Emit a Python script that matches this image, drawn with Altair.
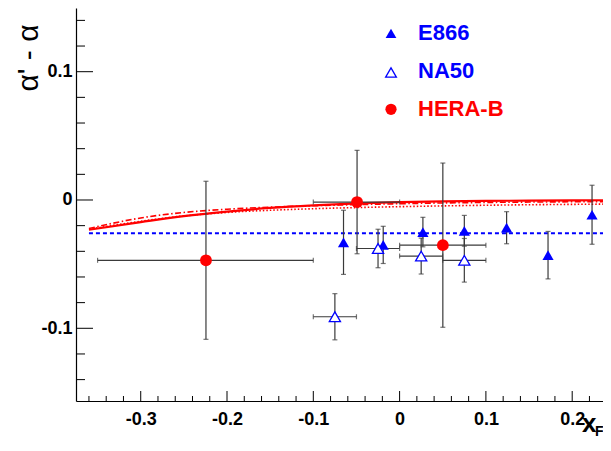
import altair as alt
import pandas as pd

# ---------------- data ----------------
e866_x = [-0.065, -0.019, 0.027, 0.075, 0.124, 0.172, 0.223]
e866_y = [-0.033, -0.035, -0.025, -0.024, -0.0216, -0.043, -0.0115]
e866_err = [0.025, 0.0145, 0.0115, 0.012, 0.0125, 0.0185, 0.023]

na50_x = [-0.075, -0.025, 0.025, 0.075]
na50_y = [-0.091, -0.0378, -0.0437, -0.047]
na50_yerr = [0.018, 0.015, 0.014, 0.017]
na50_xerr = [0.025, 0.025, 0.025, 0.025]

herab_x = [-0.2244, -0.0493, 0.0501]
herab_y = [-0.047, -0.0016, -0.0352]
herab_yerr = [0.0616, 0.0403, 0.064]
herab_xlo = [-0.35, -0.1, 0.0]
herab_xhi = [-0.1, 0.0, 0.1]

e866_level_x = [-0.36, 0.24]
e866_level_y = [-0.026, -0.026]

curve_x = [-0.36, -0.3, -0.25, -0.2, -0.15, -0.1, -0.05, 0.0, 0.05, 0.1, 0.15, 0.2, 0.24]
curve_solid = [-0.0232, -0.0172, -0.0125, -0.0090, -0.0062, -0.0042, -0.0027, -0.0017,
               -0.0011, -0.0007, -0.0005, -0.0003, -0.0002]
curve_dashdot = [-0.0222, -0.0140, -0.0097, -0.0072, -0.0056, -0.0045, -0.0036, -0.0029,
                 -0.0023, -0.0019, -0.0016, -0.0014, -0.0013]
curve_dotted = [-0.0228, -0.0166, -0.0124, -0.0097, -0.0080, -0.0068, -0.0059, -0.0052,
                -0.0046, -0.0041, -0.0037, -0.0034, -0.0032]

legend_names = ["E866", "NA50", "HERA-B"]
y_title = ["α' - α"]
x_title = ["x", "F"]

x_major = [-0.3, -0.2, -0.1, 0.0, 0.1, 0.2]
x_minor = [-0.36, -0.34, -0.32, -0.28, -0.26, -0.24, -0.22, -0.18, -0.16, -0.14, -0.12,
           -0.08, -0.06, -0.04, -0.02, 0.02, 0.04, 0.06, 0.08, 0.12, 0.14, 0.16, 0.18,
           0.22]
y_major = [-0.1, 0.0, 0.1]
y_minor = [-0.14, -0.12, -0.08, -0.06, -0.04, -0.02, 0.02, 0.04, 0.06, 0.08, 0.12, 0.14]

# ---------------- layout ----------------
W, H = 527, 393
xs = alt.Scale(domain=[-0.375, 0.2357], nice=False, zero=False)
ys = alt.Scale(domain=[-0.15667, 0.14965], nice=False, zero=False)
BLUE = "#0000ff"
RED = "#ff0000"
BAR = "#3a3a3a"
FONT = "Liberation Sans"

e866 = pd.DataFrame({"x": e866_x, "y": e866_y})
e866["lo"] = e866["y"] - pd.Series(e866_err)
e866["hi"] = e866["y"] + pd.Series(e866_err)

na50 = pd.DataFrame({"x": na50_x, "y": na50_y})
na50["lo"] = na50["y"] - pd.Series(na50_yerr)
na50["hi"] = na50["y"] + pd.Series(na50_yerr)
na50["xlo"] = na50["x"] - pd.Series(na50_xerr)
na50["xhi"] = na50["x"] + pd.Series(na50_xerr)

herab = pd.DataFrame({"x": herab_x, "y": herab_y, "xlo": herab_xlo, "xhi": herab_xhi})
herab["lo"] = herab["y"] - pd.Series(herab_yerr)
herab["hi"] = herab["y"] + pd.Series(herab_yerr)

LABEL_EXPR = "datum.value == 0 ? '0' : '' + round(datum.value * 10) / 10"
xaxis = alt.Axis(values=x_major, ticks=False, grid=False, domain=True, domainColor="black",
                 domainWidth=1.2, labelFont=FONT, labelFontWeight="bold", labelFontSize=18,
                 labelColor="black", labelPadding=9, labelFlush=False, title=None,
                 labelExpr=LABEL_EXPR)
yaxis = alt.Axis(values=y_major, ticks=False, grid=False, domain=True, domainColor="black",
                 domainWidth=1.2, labelFont=FONT, labelFontWeight="bold", labelFontSize=18,
                 labelColor="black", labelPadding=4, title=None, labelExpr=LABEL_EXPR)


def X(f):
    return alt.X(f, type="quantitative", scale=xs, axis=xaxis)


def Y(f):
    return alt.Y(f, type="quantitative", scale=ys, axis=yaxis)


level_df = pd.DataFrame({"x": e866_level_x, "y": e866_level_y})
blue_line = alt.Chart(level_df).mark_line(color=BLUE, strokeDash=[4, 3], strokeWidth=2,
                                          clip=True).encode(x=X("x"), y=Y("y"))

curves = []
for ys_vals, dash, sw in [(curve_dotted, [1.5, 2], 1.6), (curve_dashdot, [6, 2.5, 1.5, 2.5], 1.6),
                          (curve_solid, None, 2.2)]:
    df = pd.DataFrame({"x": curve_x, "y": ys_vals})
    kw = dict(color=RED, strokeWidth=sw, clip=True, interpolate="monotone")
    if dash:
        kw["strokeDash"] = dash
    curves.append(alt.Chart(df).mark_line(**kw).encode(x=X("x"), y=Y("y")))

layers = [blue_line] + curves

# error bars
for df in [e866, na50, herab]:
    layers.append(alt.Chart(df).mark_rule(color=BAR, strokeWidth=1.2).encode(
        x=X("x"), y=Y("lo"), y2="hi"))
    layers.append(alt.Chart(df).mark_tick(color=BAR, orient="horizontal", size=5,
                                          thickness=1.2).encode(x=X("x"), y=Y("lo")))
    layers.append(alt.Chart(df).mark_tick(color=BAR, orient="horizontal", size=5,
                                          thickness=1.2).encode(x=X("x"), y=Y("hi")))
for df in [na50, herab]:
    layers.append(alt.Chart(df).mark_rule(color=BAR, strokeWidth=1.2).encode(
        x=X("xlo"), x2="xhi", y=Y("y")))
    layers.append(alt.Chart(df).mark_tick(color=BAR, orient="vertical", size=5,
                                          thickness=1.2).encode(x=X("xlo"), y=Y("y")))
    layers.append(alt.Chart(df).mark_tick(color=BAR, orient="vertical", size=5,
                                          thickness=1.2).encode(x=X("xhi"), y=Y("y")))

# markers
layers.append(alt.Chart(e866).mark_point(shape="triangle-up", filled=True, color=BLUE, size=125,
                                         opacity=1).encode(x=X("x"), y=Y("y")))
layers.append(alt.Chart(na50).mark_point(shape="triangle-up", fill="white", stroke=BLUE,
                                         strokeWidth=1.3, fillOpacity=1, opacity=1,
                                         size=125).encode(x=X("x"), y=Y("y")))
layers.append(alt.Chart(herab).mark_point(shape="circle", filled=True, color=RED, size=140,
                                          opacity=1).encode(x=X("x"), y=Y("y")))

# legend
leg_rows = [(legend_names[0], BLUE, "tri", 25.3, 31.5),
            (legend_names[1], BLUE, "open", 64.5, 70.0),
            (legend_names[2], RED, "circ", 101.3, 108.0)]
for name, col, kind, ym, yb in leg_rows:
    d = pd.DataFrame({"t": [name]})
    if kind == "tri":
        m = alt.Chart(d).mark_point(shape="triangle-up", filled=True, color=col, size=115, opacity=1)
    elif kind == "open":
        m = alt.Chart(d).mark_point(shape="triangle-up", fill="white", stroke=col, strokeWidth=1.3,
                                    fillOpacity=1, opacity=1, size=115)
    else:
        m = alt.Chart(d).mark_point(shape="circle", filled=True, color=col, size=125, opacity=1)
    layers.append(m.encode(x=alt.value(315), y=alt.value(ym)))
    layers.append(alt.Chart(d).mark_text(font=FONT, fontWeight="bold", fontSize=22, color=col,
                                         align="left", baseline="alphabetic").encode(
        x=alt.value(342), y=alt.value(yb), text="t:N"))

# axis titles
layers.append(alt.Chart(pd.DataFrame({"t": y_title})).mark_text(
    font=FONT, fontSize=30, color="black", angle=270, align="center", baseline="middle").encode(
    x=alt.value(-47.5), y=alt.value(50), text="t:N"))
layers.append(alt.Chart(pd.DataFrame({"t": [x_title[0]]})).mark_text(
    font=FONT, fontSize=26, fontWeight="bold", color="black", align="left",
    baseline="alphabetic").encode(x=alt.value(506), y=alt.value(424), text="t:N"))
layers.append(alt.Chart(pd.DataFrame({"t": [x_title[1]]})).mark_text(
    font=FONT, fontSize=14, fontWeight="bold", color="black", align="left",
    baseline="alphabetic").encode(x=alt.value(519), y=alt.value(428), text="t:N"))

# inward ticks (ROOT style)
layers.append(alt.Chart(pd.DataFrame({"v": x_major})).mark_rule(color="black", strokeWidth=1).encode(
    x=X("v"), y=alt.value(H), y2=alt.value(H - 10)))
layers.append(alt.Chart(pd.DataFrame({"v": x_minor})).mark_rule(color="black", strokeWidth=1).encode(
    x=X("v"), y=alt.value(H), y2=alt.value(H - 5)))
layers.append(alt.Chart(pd.DataFrame({"v": y_major})).mark_rule(color="black", strokeWidth=1).encode(
    y=Y("v"), x=alt.value(0), x2=alt.value(17)))
layers.append(alt.Chart(pd.DataFrame({"v": y_minor})).mark_rule(color="black", strokeWidth=1).encode(
    y=Y("v"), x=alt.value(0), x2=alt.value(9)))

chart = alt.layer(*layers).properties(
    width=W, height=H,
    padding={"left": 68, "top": 0, "right": 0, "bottom": 38},
    autosize=alt.AutoSizeParams(type="none"),
).configure_view(strokeWidth=0)

chart.save("out.html", embed_options={"renderer": "svg", "actions": False})
